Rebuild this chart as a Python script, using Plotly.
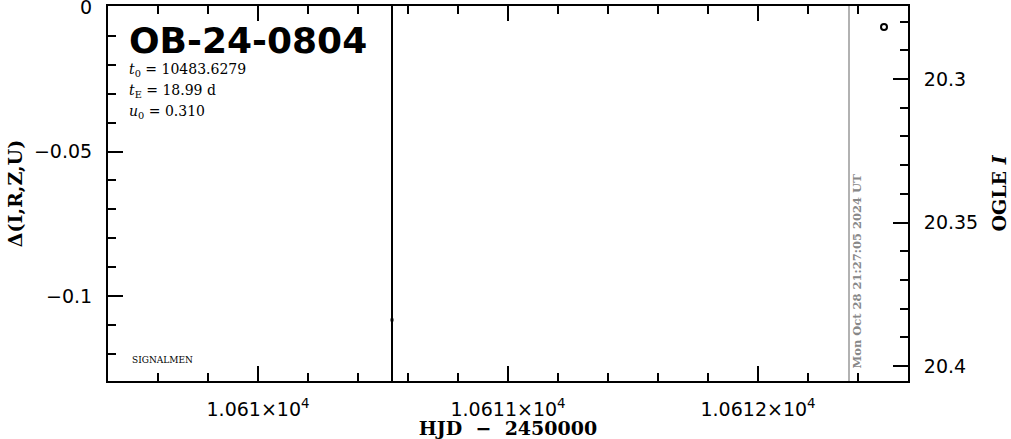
import plotly.graph_objects as go

# ---- data ----
ogle_hjd = [10612.504]
ogle_mag = [20.2819]
delta_hjd = [10610.536]
delta_val = [-0.1082]
vline_black = [10610.536]
vline_now = [10612.364]

x_range = [10609.4, 10612.6]
yl_range = [-0.1293, 0.0003]
yr_range = [20.4052, 20.2746]

x_tickvals = [10610, 10611, 10612]
x_ticktext = ["1.061×10<sup>4</sup>", "1.0611×10<sup>4</sup>", "1.0612×10<sup>4</sup>"]
yl_tickvals = [0, -0.05, -0.1]
yl_ticktext = ["0", "−0.05", "−0.1"]
yr_tickvals = [20.3, 20.35, 20.4]
yr_ticktext = ["20.3", "20.35", "20.4"]

event_name = "OB-24-0804"
params = ["<i>t</i><sub>0</sub> = 10483.6279", "<i>t</i><sub>E</sub> = 18.99 d", "<i>u</i><sub>0</sub> = 0.310"]
stamp = "Mon Oct 28 21:27:05 2024 UT"

SANS = "DejaVu Sans"
SERIF = "DejaVu Serif"

fig = go.Figure()
fig.add_trace(go.Scatter(x=delta_hjd, y=delta_val, mode="markers", yaxis="y",
                         marker=dict(symbol="square", size=3, color="black"),
                         showlegend=False))
fig.add_trace(go.Scatter(x=ogle_hjd, y=ogle_mag, mode="markers", yaxis="y2",
                         marker=dict(symbol="circle-open", size=6, color="black",
                                     line=dict(width=2, color="black")),
                         showlegend=False))

for xv in vline_black:
    fig.add_shape(type="line", xref="x", yref="paper", x0=xv, x1=xv, y0=0, y1=1,
                  line=dict(color="black", width=2))
for xv in vline_now:
    fig.add_shape(type="line", xref="x", yref="paper", x0=xv, x1=xv, y0=0, y1=1,
                  line=dict(color="#999999", width=1.5))
    fig.add_annotation(x=xv, y=0.0, xref="x", yref="paper", text="<b>" + stamp + "</b>",
                       textangle=-90, showarrow=False, xanchor="left", yanchor="bottom",
                       xshift=-2, yshift=10,
                       font=dict(family=SERIF, size=11.5, color="#888888"))

fig.add_annotation(x=0.024, y=0.909, xref="paper", yref="paper", text="<b>" + event_name + "</b>",
                   showarrow=False, xanchor="left", yanchor="middle",
                   font=dict(family=SANS, size=36, color="black"))
for i, p in enumerate(params):
    fig.add_annotation(x=0.024, y=0.829 - i * 0.056, xref="paper", yref="paper", text=p,
                       showarrow=False, xanchor="left", yanchor="middle",
                       font=dict(family=SERIF, size=14, color="black"))
fig.add_annotation(x=0.027, y=0.056, xref="paper", yref="paper", text="SIGNALMEN",
                   showarrow=False, xanchor="left", yanchor="middle",
                   font=dict(family=SERIF, size=9, color="black"))

axis_common = dict(showgrid=False, zeroline=False, showline=True, linecolor="black",
                   linewidth=2, ticks="inside", tickcolor="black", tickwidth=2, ticklen=15,
                   automargin=False, ticklabeloverflow="allow",
                   tickfont=dict(family=SANS, size=19, color="black"))

fig.update_layout(
    width=1011, height=439,
    margin=dict(l=108, r=103, t=6, b=58),
    paper_bgcolor="white", plot_bgcolor="white",
    xaxis=dict(range=x_range, tickmode="array", tickvals=x_tickvals, ticktext=x_ticktext,
               mirror="ticks", ticklabelstandoff=10,
               minor=dict(dtick=0.2, tick0=10610, ticklen=8, ticks="inside",
                          tickcolor="black", tickwidth=2),
               title=dict(text="<b>HJD  −  2450000</b>", standoff=2,
                          font=dict(family=SERIF, size=19, color="black")),
               **axis_common),
    yaxis=dict(range=yl_range, tickmode="array", tickvals=yl_tickvals, ticktext=yl_ticktext,
               ticklabelstandoff=10,
               minor=dict(dtick=0.01, tick0=0, ticklen=8, ticks="inside",
                          tickcolor="black", tickwidth=2),
               title=dict(text="<b>Δ(I,R,Z,U)</b>", standoff=6,
                          font=dict(family=SERIF, size=19, color="black")),
               **axis_common),
    yaxis2=dict(range=yr_range, overlaying="y", side="right", anchor="x",
                tickmode="array", tickvals=yr_tickvals, ticktext=yr_ticktext,
                ticklabelstandoff=10,
                minor=dict(dtick=0.01, tick0=20.3, ticklen=8, ticks="inside",
                           tickcolor="black", tickwidth=2),
                title=dict(text="<b>OGLE <i>I</i></b>", standoff=15,
                           font=dict(family=SERIF, size=19, color="black")),
                **axis_common),
)

fig.write_html("out.html", config={"displayModeBar": False},
               post_script="document.body.style.margin='0px';document.body.style.overflow='hidden';")
